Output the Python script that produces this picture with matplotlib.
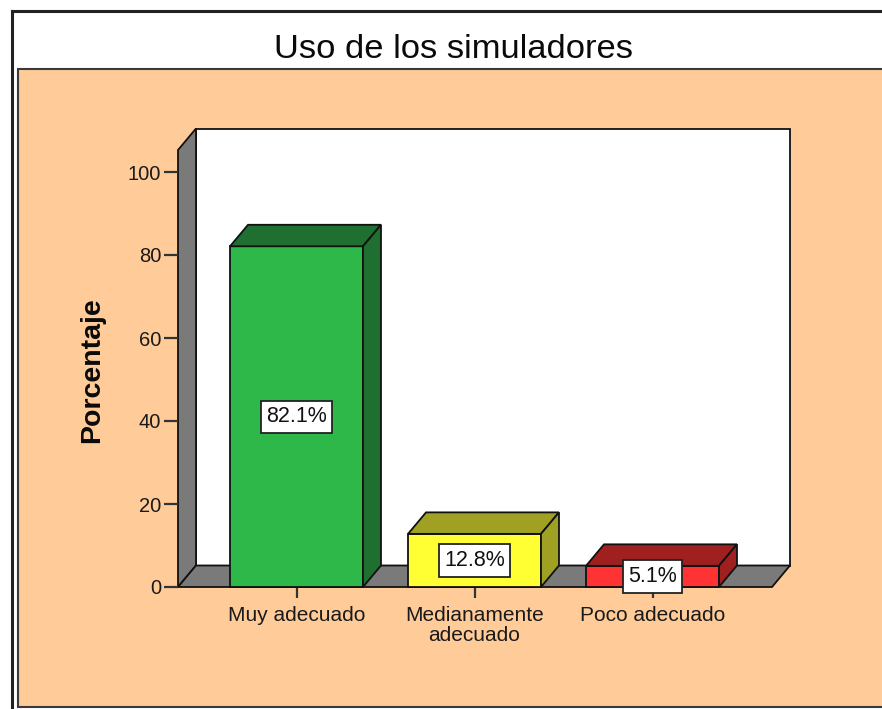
import matplotlib
matplotlib.use("Agg")
import matplotlib.pyplot as plt
from matplotlib.patches import Polygon, Rectangle
from matplotlib.lines import Line2D

# ---------------- data ----------------
categories = ["Muy adecuado", "Medianamente\nadecuado", "Poco adecuado"]
percentages = [82.1, 12.8, 5.1]
value_labels = ["82.1%", "12.8%", "5.1%"]
y_ticks = [0, 20, 40, 60, 80, 100]
title = "Uso de los simuladores"
y_label = "Porcentaje"

# ---------------- style ----------------
front_colors = ["#2EB84A", "#FFFF33", "#FF3333"]
shade_colors = ["#1F7030", "#A0A022", "#A01F1F"]
WALL_GRAY = "#7A7A7A"
PEACH = "#FFCB98"
BAR_W = 0.747          # bar width in category units
DX = 18 / 178          # depth offset, category units
DY = 21.5 / 4.15       # depth offset, value units
WALL_H = 105.3         # height of the walls, value units
EDGE = "#111111"
LW = 1.3

plt.rcParams["font.family"] = ["Liberation Sans", "DejaVu Sans"]

W, H = 882, 709
fig = plt.figure(figsize=(W / 100, H / 100), dpi=100)
fig.patch.set_facecolor("white")


def fx(px):
    return px / W


def fy(py):
    return 1 - py / H


# outer frame and background panel
fig.add_artist(Rectangle((fx(18), fy(707)), 1.0, fy(69) - fy(707),
                         transform=fig.transFigure, facecolor=PEACH,
                         edgecolor="#3a3a3a", lw=1.5, zorder=-2))
fig.add_artist(Line2D([fx(12), fx(12)], [fy(11), -0.01], color="#222222",
                      lw=2.2, transform=fig.transFigure, zorder=-1))
fig.add_artist(Line2D([fx(12), 1.01], [fy(11), fy(11)], color="#222222",
                      lw=2.2, transform=fig.transFigure, zorder=-1))

fig.text(fx(453), fy(58), title, ha="center", va="baseline",
         fontsize=24.8, color="#0a0a0a")

# axes: the front plane of the 3D chart
ax = fig.add_axes([fx(178), fy(587), (772 - 178) / W, (587 - 172) / H])
ax.patch.set_visible(False)
for sp in ax.spines.values():
    sp.set_visible(False)
xl, xr = (178 - 296.5) / 178, (772 - 296.5) / 178
ax.set_xlim(xl, xr)
ax.set_ylim(0, 100)

# walls
back = Polygon([(xl + DX, DY), (xr + DX, DY), (xr + DX, WALL_H + DY),
                (xl + DX, WALL_H + DY)], closed=True, facecolor="white",
               edgecolor=EDGE, lw=LW, clip_on=False, zorder=1)
left = Polygon([(xl, 0), (xl + DX, DY), (xl + DX, WALL_H + DY), (xl, WALL_H)],
               closed=True, facecolor=WALL_GRAY, edgecolor=EDGE, lw=LW,
               clip_on=False, zorder=1.1)
floor = Polygon([(xl, 0), (xr, 0), (xr + DX, DY), (xl + DX, DY)], closed=True,
                facecolor=WALL_GRAY, edgecolor=EDGE, lw=LW, clip_on=False,
                zorder=1.2)
for p in (back, left, floor):
    ax.add_patch(p)

# bars
xs = list(range(len(categories)))
ax.bar(xs, percentages, width=BAR_W, color=front_colors, edgecolor=EDGE,
       lw=LW, zorder=3, clip_on=False)
for i, v in enumerate(percentages):
    x0, x1 = i - BAR_W / 2, i + BAR_W / 2
    top = Polygon([(x0, v), (x1, v), (x1 + DX, v + DY), (x0 + DX, v + DY)],
                  closed=True, facecolor=shade_colors[i], edgecolor=EDGE,
                  lw=LW, clip_on=False, zorder=3)
    side = Polygon([(x1, 0), (x1 + DX, DY), (x1 + DX, v + DY), (x1, v)],
                   closed=True, facecolor=shade_colors[i], edgecolor=EDGE,
                   lw=LW, clip_on=False, zorder=3)
    ax.add_patch(top)
    ax.add_patch(side)
    ax.text(i, v / 2, value_labels[i], ha="center", va="center",
            fontsize=15.5, color="#111111", zorder=10, clip_on=False,
            bbox=dict(boxstyle="square,pad=0.26", facecolor="white",
                      edgecolor="#222222", lw=1.3))

# ticks
ax.set_yticks(y_ticks)
ax.set_xticks(xs)
ax.set_xticklabels(categories)
for lbl in ax.get_xticklabels():
    lbl.set_linespacing(1.1)
ax.tick_params(axis="y", length=10, width=1.6, color="#333333", pad=2,
               labelsize=14.5, labelcolor="#1a1a1a")
ax.tick_params(axis="x", length=8, width=1.6, color="#333333", pad=5.5,
               labelsize=15, labelcolor="#1a1a1a")

ax.set_ylabel(y_label, fontsize=20.5, fontweight="bold", color="#0a0a0a")
ax.yaxis.set_label_coords((92 - 178) / 594, (587 - 370) / 415)
ax.yaxis.label.set_va("center")

fig.savefig("out.png", dpi=100)
